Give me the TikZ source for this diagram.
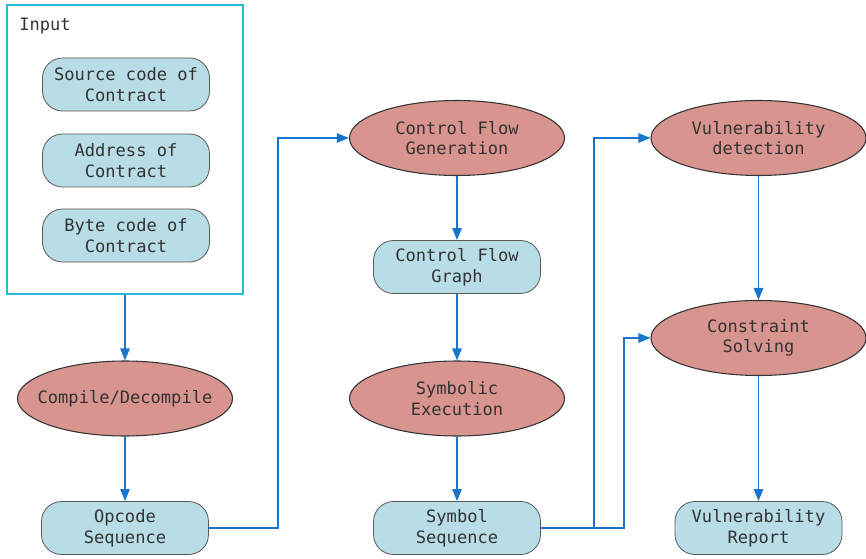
\documentclass[tikz,border=0pt]{standalone}
\usepackage{fontspec}
\setmonofont{DejaVu Sans Mono}
\usetikzlibrary{shapes.geometric,arrows.meta}
\definecolor{boxfill}{HTML}{B8DDE6}
\definecolor{ellfill}{HTML}{D8948E}
\definecolor{arrowc}{HTML}{1874CD}
\definecolor{inputc}{HTML}{29B9D6}
\begin{document}
\begin{tikzpicture}[x=0.75pt,y=-0.75pt,
  every node/.style={font=\ttfamily\fontsize{12.8}{15.5}\selectfont, text=black!80, align=center, inner sep=0pt},
  rbox/.style={draw=black!65, fill=boxfill, rounded corners=20*0.75pt, minimum width=167*0.75pt, minimum height=53*0.75pt, line width=0.6pt},
  ell/.style={ellipse, draw=black!80, fill=ellfill, minimum width=215*0.75pt, minimum height=75*0.75pt, line width=0.8pt},
  conn/.style={draw=arrowc, line width=1.2pt, -{Triangle[length=9pt,width=7pt]}},
  line/.style={draw=arrowc, line width=1.2pt}]
\useasboundingbox (0,0) rectangle (866,559);
\node[draw=inputc, line width=1.2pt, minimum width=236*0.75pt, minimum height=289*0.75pt] (input) at (125,149.5) {};
\node[anchor=west] (inlabel) at (19,26) {Input};
\node[rbox] (src) at (126,84.5) {Source code of\\Contract};
\node[rbox] (addr) at (126,160.5) {Address of\\Contract};
\node[rbox] (byte) at (126,235.5) {Byte code of\\Contract};
\node[ell, inner xsep=-9pt] (comp) at (125,398.5) {Compile/Decompile};
\node[rbox] (opc) at (125,528) {Opcode\\Sequence};
\node[ell] (cfgen) at (457,138) {Control Flow\\Generation};
\node[rbox] (cfg) at (457,267) {Control Flow\\Graph};
\node[ell] (sym) at (457,398.5) {Symbolic\\Execution};
\node[rbox] (symseq) at (457,528) {Symbol\\Sequence};
\node[ell] (vd) at (758.5,138) {Vulnerability\\detection};
\node[ell] (cs) at (758.5,338) {Constraint\\Solving};
\node[rbox] (rep) at (758.5,528) {Vulnerability\\Report};
\coordinate (j1) at (594,528);
\draw[conn] (input.south) -- (comp.north);
\draw[conn] (comp.south) -- (opc.north);
\draw[conn] (opc.east) -- (278,528) |- (cfgen.west);
\draw[conn] (cfgen.south) -- (cfg.north);
\draw[conn] (cfg.south) -- (sym.north);
\draw[conn] (sym.south) -- (symseq.north);
\draw[line] (symseq.east) -- (j1);
\draw[conn] (j1) |- (vd.west);
\draw[conn] (j1) -- (624,528) |- (cs.west);
\draw[conn] (vd.south) -- (cs.north);
\draw[conn] (cs.south) -- (rep.north);
\end{tikzpicture}
\end{document}
